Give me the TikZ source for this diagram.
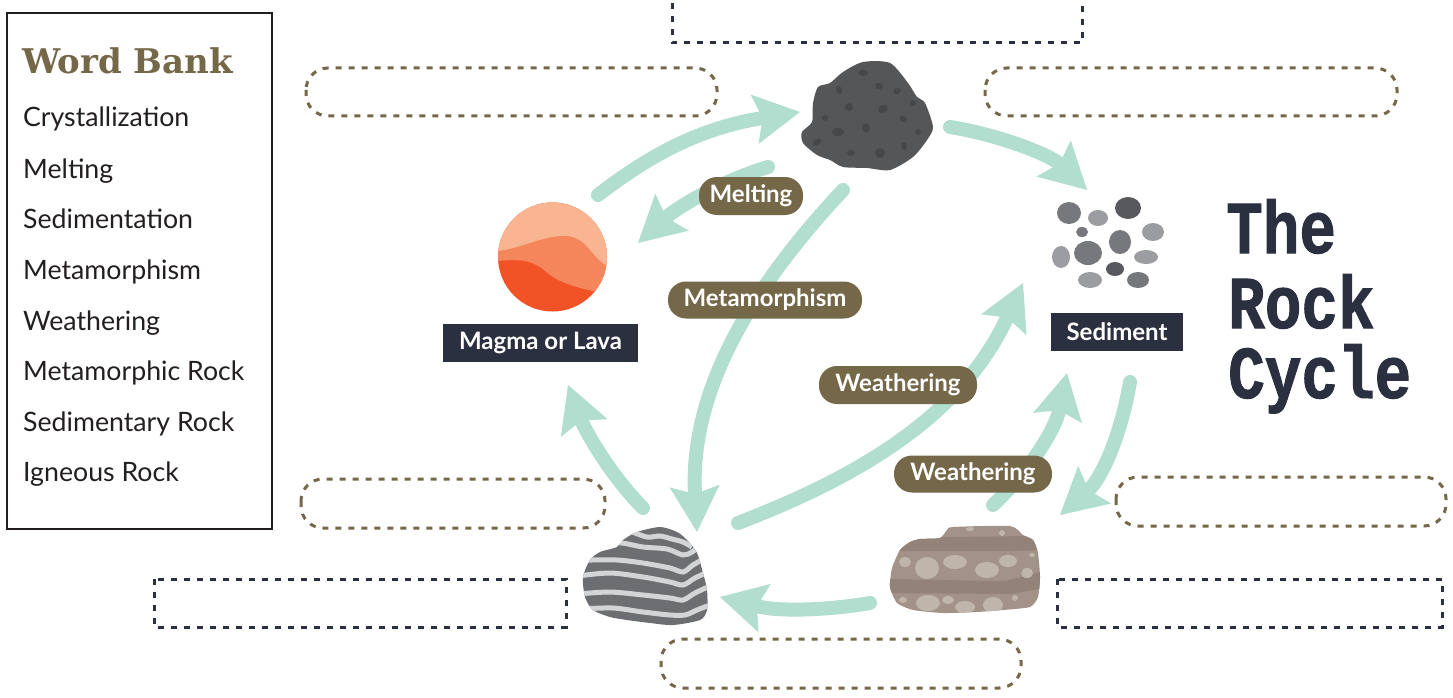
\documentclass[tikz,border=0pt]{standalone}
\usepackage{fontspec}
\setmainfont{Lato}
\newfontfamily\wbfont{DejaVu Serif}
\newfontfamily\titlefont{Liberation Mono}[BoldFeatures={FakeBold=1.5}]
\usetikzlibrary{arrows.meta}
\definecolor{mint}{HTML}{B1DECE}
\definecolor{olive}{HTML}{746848}
\definecolor{navy}{HTML}{2B3040}
\definecolor{ink}{HTML}{231F20}
\definecolor{ign}{HTML}{555658}
\definecolor{ignspot}{HTML}{46474A}
\definecolor{meta}{HTML}{6D6E72}
\definecolor{metastripe}{HTML}{D3D4D6}
\definecolor{sedr}{HTML}{A39287}
\definecolor{sedband}{HTML}{928277}
\definecolor{sedspot}{HTML}{C0B5AA}
\definecolor{maglight}{HTML}{F9B591}
\definecolor{magmid}{HTML}{F5855A}
\definecolor{magdark}{HTML}{F15327}
\definecolor{pdark}{HTML}{58595C}
\definecolor{pmid}{HTML}{77787B}
\definecolor{plight}{HTML}{9C9DA0}
\begin{document}
\begin{tikzpicture}[x=1pt,y=-1pt,
  cyc/.style={draw=mint,line width=14pt,line cap=round,-{Stealth[length=46pt,width=50pt,inset=8pt,line width=0pt]}},
  obox/.style={draw=olive,line width=3pt,dash pattern=on 6pt off 7pt,rounded corners=22pt},
  nbox/.style={draw=navy,line width=3pt,dash pattern=on 6pt off 7pt},
  pill/.style={fill=olive,text=white,rounded corners=18pt,font=\bfseries\fontsize{24}{28}\selectfont,inner sep=0pt},
  dlabel/.style={fill=navy,text=white,font=\bfseries\fontsize{24}{28}\selectfont,inner sep=0pt},
  wb/.style={anchor=base west,text=ink,font=\fontsize{26.7}{32}\selectfont,inner sep=0pt},
  ttl/.style={anchor=base west,text=navy,font=\titlefont\bfseries\fontsize{61}{66}\selectfont,inner sep=0pt},
  stripe/.style={draw=metastripe,line width=5pt}
]
\useasboundingbox (0,0) rectangle (1453,698);
\fill[white] (0,0) rectangle (1453,698);

% ---------- word bank ----------
\draw[line width=2.5pt,draw=ink] (7,13) rectangle (272,529);
\node[anchor=base west,text=olive,inner sep=0pt,font=\wbfont\bfseries\fontsize{34}{40}\selectfont] (wbt) at (22,74) {Word Bank};
\node[wb] (w1) at (23,127) {Crystallization};
\node[wb] (w2) at (23,178) {Melting};
\node[wb] (w3) at (23,228) {Sedimentation};
\node[wb] (w4) at (23,279) {Metamorphism};
\node[wb] (w5) at (23,330) {Weathering};
\node[wb] (w6) at (23,380) {Metamorphic Rock};
\node[wb] (w7) at (23,431) {Sedimentary Rock};
\node[wb] (w8) at (23,481) {Igneous Rock};

% ---------- blank boxes ----------
\draw[nbox] (672,-10) rectangle (1082,43);
\draw[nbox] (154,579) rectangle (566,627);
\draw[nbox] (1057,579) rectangle (1442,627);
\draw[obox] (306,68) rectangle (717,116);
\draw[obox] (985,68) rectangle (1397,116);
\draw[obox] (301,479) rectangle (605,528);
\draw[obox] (1116,477) rectangle (1446,526);
\draw[obox] (661,639) rectangle (1021,688);

% ---------- title ----------
\node[ttl] (t1) at (1226,253) {\scalebox{1}[1.22]{The}};
\node[ttl] (t2) at (1228,328) {\scalebox{1}[1.22]{Rock}};
\node[ttl] (t3) at (1228,398) {\scalebox{1}[1.22]{Cycle}};

% ---------- arrows ----------
\coordinate (a1s) at (598,195); \coordinate (a1e) at (800,112);
\coordinate (a2s) at (768,167); \coordinate (a2e) at (638,243);
\coordinate (a3s) at (843,190); \coordinate (a3e) at (697,532);
\coordinate (a4s) at (738,523); \coordinate (a4e) at (1023,283);
\coordinate (a5s) at (993,505); \coordinate (a5e) at (1067,373);
\coordinate (a6s) at (1130,382); \coordinate (a6e) at (1060,515);
\coordinate (a7s) at (950,127); \coordinate (a7e) at (1087,190);
\coordinate (a8s) at (643,508); \coordinate (a8e) at (568,385);
\coordinate (a9s) at (870,603); \coordinate (a9e) at (720,597);
\draw[cyc] (a1s) .. controls (650,155) and (700,128) .. (a1e);
\draw[cyc] (a2s) .. controls (725,180) and (680,205) .. (a2e);
\draw[cyc] (a3s) .. controls (740,300) and (690,400) .. (a3e);
\draw[cyc] (a4s) .. controls (850,480) and (960,420) .. (a4e);
\draw[cyc] (a5s) .. controls (1030,470) and (1055,430) .. (a5e);
\draw[cyc] (a6s) .. controls (1120,440) and (1100,480) .. (a6e);
\draw[cyc] (a7s) .. controls (1000,135) and (1050,155) .. (a7e);
\draw[cyc] (a8s) .. controls (610,475) and (585,430) .. (a8e);
\draw[cyc] (a9s) .. controls (830,610) and (780,612) .. (a9e);

% ---------- igneous rock ----------
\fill[ign] plot[smooth cycle,tension=0.45] coordinates {(863,62) (890,63) (908,83) (917,97) (925,103) (933,127) (927,140) (913,157) (890,170) (867,168) (843,167) (830,160) (817,155) (803,143) (802,132) (812,122) (813,103) (818,87) (830,83) (843,72)};
\foreach \x/\y/\a/\b/\r in {863/73/5/3/0, 839/90/3/4/20, 879/86/4/3/-20, 897/91/4/3/20, 913/103/3/3/0, 849/107/4/4/30, 883/109/5/4/30, 825/118/3/3/0, 903/119/4/3/-30, 866/128/4/5/10, 838/132/6/4/0, 918/132/3/3/0, 817/142/5/3/30, 904/146/3/4/10, 880/153/5/5/0, 851/153/4/3/0}
  \fill[ignspot,rotate around={\r:(\x,\y)}] (\x,\y) ellipse [x radius=\a, y radius=\b];

% ---------- magma ----------
\begin{scope}
\clip (552.5,257) circle (54.5);
\fill[magdark] (490,190) rectangle (615,320);
\fill[magmid] (490,190) -- (490,262) .. controls (520,258) and (532,260) .. (545,271) .. controls (562,286) and (585,289) .. (615,296) -- (615,190) -- cycle;
\fill[maglight] (490,190) -- (490,252) .. controls (520,250) and (545,234) .. (568,236) .. controls (590,239) and (592,262) .. (615,270) -- (615,190) -- cycle;
\end{scope}
\node[dlabel,minimum width=195pt,minimum height=38pt] (magma) at (540.5,343) {Magma or Lava};

% ---------- sediment ----------
\foreach \x/\y/\a/\b/\c in {1069/213/12/11/pmid, 1098/218/10/8/plight, 1128/208/13/11/pdark, 1082/232/6/5/pmid, 1120/242/11/12/pmid, 1153/232/11/9/plight, 1061/257/9/11/plight, 1088/253/14/12/pmid, 1146/257/12/7/plight, 1115/269/9/7/pdark, 1090/280/12/8/plight, 1138/280/11/8/pmid}
  \fill[\c] (\x,\y) ellipse [x radius=\a, y radius=\b];
\node[dlabel,minimum width=132pt,minimum height=38pt] (sed) at (1117,332) {Sediment};

% ---------- metamorphic rock ----------
\begin{scope}
\clip plot[smooth cycle,tension=0.45] coordinates {(637,532) (660,527) (677,532) (687,540) (697,553) (703,573) (707,590) (707,610) (700,620) (673,625) (650,623) (627,620) (610,617) (593,610) (585,597) (583,577) (590,560) (600,552) (617,547) (623,540)};
\fill[meta] (570,520) rectangle (720,630);
\draw[stripe] plot[smooth] coordinates {(630,531) (647,537) (660,536) (672,539) (683,542) (692,547)};
\draw[stripe] plot[smooth] coordinates {(605,543) (622,543) (643,547) (667,549) (683,555) (692,552) (702,544)};
\draw[stripe] plot[smooth] coordinates {(580,561) (592,560) (617,560) (643,563) (670,568) (683,572) (693,565) (705,558)};
\draw[stripe] plot[smooth] coordinates {(578,576) (610,573) (643,577) (670,582) (683,585) (695,578) (710,571)};
\draw[stripe] plot[smooth] coordinates {(578,594) (610,592) (643,595) (670,598) (683,600) (695,593) (710,586)};
\draw[stripe] plot[smooth] coordinates {(580,609) (613,608) (643,612) (670,615) (685,615) (697,610) (710,605)};
\end{scope}

% ---------- sedimentary rock ----------
\begin{scope}
\clip plot[smooth cycle,tension=0.35] coordinates {(947,530) (953,527) (1010,526) (1023,535) (1033,540) (1038,553) (1040,577) (1038,597) (1030,607) (1003,610) (977,612) (943,613) (913,610) (897,603) (890,587) (892,568) (900,550) (910,542) (920,539) (940,538)};
\fill[sedr] (880,520) rectangle (1045,620);
\fill[sedband] (880,538) -- (1030,536) -- (1045,546) -- (1045,550) -- (1010,551) -- (880,551) -- cycle;
\fill[sedband] (880,579) -- (1005,581) -- (1045,571) -- (1045,588) -- (1010,594) -- (880,593) -- cycle;
\foreach \x/\y/\a/\b in {970/529/4/2, 1002/533/3/3, 905/562/6/5, 927/568/12/11, 955/562/12/7, 987/570/12/8, 1008/561/9/6, 1027/573/6/5, 1032/555/3/2, 903/600/4/3, 928/603/12/8, 948/600/6/4, 965/607/10/6, 993/605/10/8, 1015/598/3/3}
  \fill[sedspot] (\x,\y) ellipse [x radius=\a, y radius=\b];
\end{scope}

% ---------- process labels ----------
\node[pill,minimum width=104pt,minimum height=38pt] (melt) at (751,196) {Melting};
\node[pill,minimum width=194pt,minimum height=37pt] (metam) at (765,300) {Metamorphism};
\node[pill,minimum width=158pt,minimum height=38pt] (weath1) at (898,385) {Weathering};
\node[pill,minimum width=158pt,minimum height=37pt] (weath2) at (973,474) {Weathering};
\end{tikzpicture}
\end{document}
